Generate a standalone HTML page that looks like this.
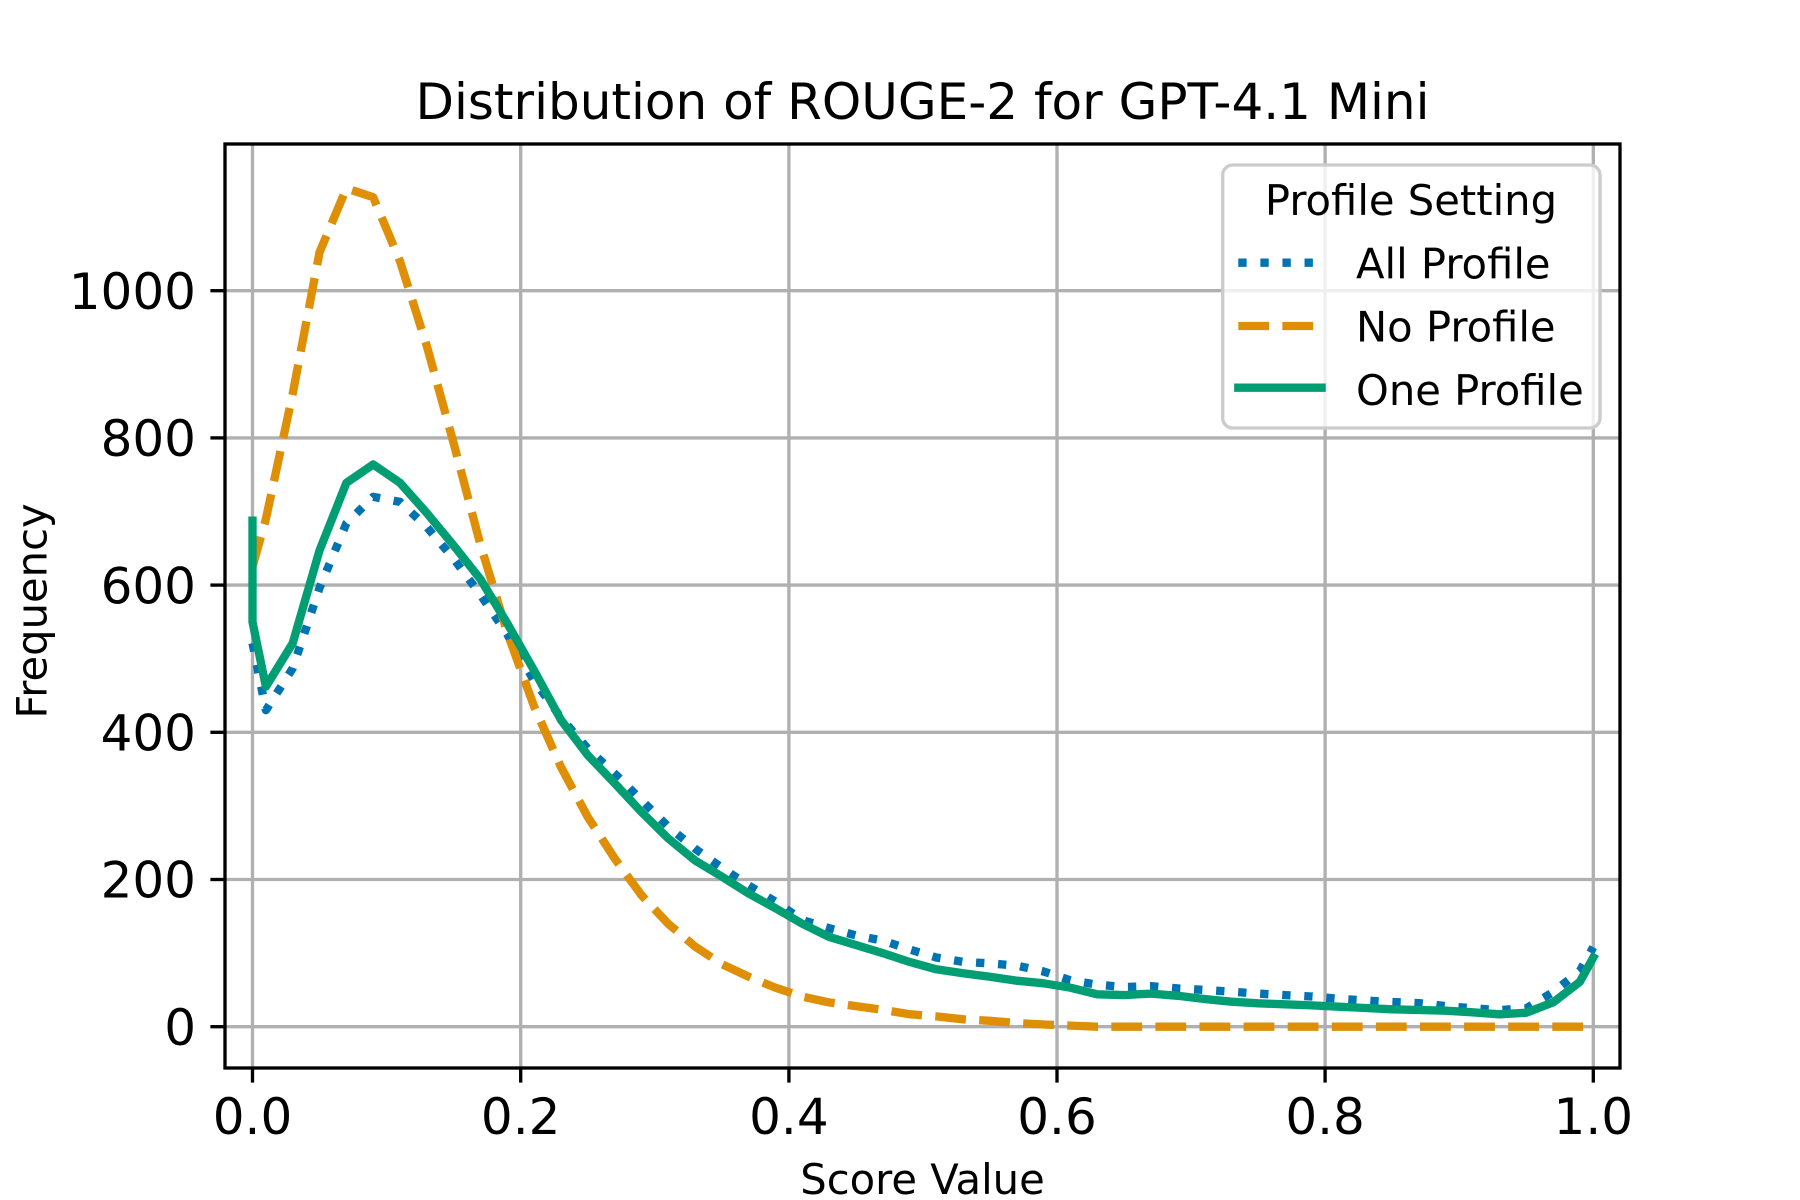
<!DOCTYPE html>
<html>
<head>
<meta charset="utf-8">
<style>
  html, body { margin: 0; padding: 0; background: #ffffff; }
  svg { display: block; }
  text { font-family: "DejaVu Sans", "Liberation Sans", sans-serif; fill: #000; }
</style>
</head>
<body>
<svg width="1800" height="1200" viewBox="0 0 1800 1200" xmlns="http://www.w3.org/2000/svg">
  <rect x="0" y="0" width="1800" height="1200" fill="#ffffff"/>
  <defs>
    <clipPath id="ax"><rect x="225" y="144" width="1395" height="924"/></clipPath>
  </defs>

  <!-- grid -->
  <g stroke="#b0b0b0" stroke-width="3.33" fill="none">
    <line x1="252.5" y1="144" x2="252.5" y2="1068"/>
    <line x1="520.7" y1="144" x2="520.7" y2="1068"/>
    <line x1="788.9" y1="144" x2="788.9" y2="1068"/>
    <line x1="1057.0" y1="144" x2="1057.0" y2="1068"/>
    <line x1="1325.1" y1="144" x2="1325.1" y2="1068"/>
    <line x1="1593.3" y1="144" x2="1593.3" y2="1068"/>
    <line x1="225" y1="1026.7" x2="1620" y2="1026.7"/>
    <line x1="225" y1="879.5" x2="1620" y2="879.5"/>
    <line x1="225" y1="732.3" x2="1620" y2="732.3"/>
    <line x1="225" y1="585.1" x2="1620" y2="585.1"/>
    <line x1="225" y1="437.9" x2="1620" y2="437.9"/>
    <line x1="225" y1="290.7" x2="1620" y2="290.7"/>
  </g>

  <g clip-path="url(#ax)" fill="none" stroke-linejoin="round">
    <!-- All Profile (blue dotted) -->
    <polyline stroke="#0173b2" stroke-width="8.33" stroke-dasharray="8.33 13.75" stroke-linecap="butt"
      points="252.5,643.2 265.9,710.2 292.7,668.3 319.5,588.0 346.4,523.3 373.2,496.8 400.0,501.9 426.8,527.0 453.6,558.6 480.4,594.7 507.3,634.4 534.1,680.8 560.9,717.6 587.7,748.5 614.5,773.5 641.3,800.0 668.1,826.5 695.0,848.6 721.8,867.7 748.6,885.4 775.4,901.6 802.2,920.0 829.0,928.1 855.9,935.4 882.7,940.6 909.5,949.4 936.3,957.5 963.1,961.9 989.9,963.4 1016.8,965.6 1043.6,971.5 1070.4,980.3 1097.2,984.7 1124.0,987.0 1150.8,986.2 1177.7,988.4 1204.5,989.9 1231.3,991.7 1258.1,993.6 1284.9,995.1 1311.7,996.5 1338.5,998.7 1365.4,1000.5 1392.2,1002.0 1419.0,1003.1 1445.8,1006.1 1472.6,1008.3 1499.4,1010.1 1526.3,1008.3 1553.1,992.1 1579.9,970.8 1593.3,947.2"/>
    <!-- No Profile (orange dashed) -->
    <polyline stroke="#de8f05" stroke-width="8.33" stroke-dasharray="30.8 13.3" stroke-linecap="butt"
      points="252.5,566.7 265.9,518.9 292.7,393.7 319.5,252.4 346.4,188.4 373.2,197.2 400.0,261.3 426.8,345.9 453.6,443.1 480.4,544.6 507.3,632.9 534.1,706.5 560.9,766.9 587.7,816.9 614.5,858.2 641.3,895.0 668.1,923.7 695.0,946.5 721.8,964.1 748.6,976.7 775.4,987.7 802.2,996.5 829.0,1002.4 855.9,1006.1 882.7,1009.8 909.5,1014.2 936.3,1016.4 963.1,1019.3 989.9,1020.8 1016.8,1023.0 1043.6,1024.5 1070.4,1025.6 1097.2,1026.7 1124.0,1026.7 1150.8,1026.7 1177.7,1026.7 1204.5,1026.7 1231.3,1026.7 1258.1,1026.7 1284.9,1026.7 1311.7,1026.7 1338.5,1026.7 1365.4,1026.7 1392.2,1026.7 1419.0,1026.7 1445.8,1026.7 1472.6,1026.7 1499.4,1026.7 1526.3,1026.7 1553.1,1026.7 1579.9,1026.7 1593.3,1026.7"/>
    <!-- One Profile (green solid) -->
    <polyline stroke="#029e73" stroke-width="8.33" stroke-linecap="square"
      points="252.5,520.7 252.5,621.9 265.9,686.7 292.7,643.2 319.5,550.5 346.4,482.8 373.2,464.4 400.0,482.8 426.8,513.0 453.6,545.4 480.4,579.2 507.3,623.4 534.1,670.5 560.9,719.8 587.7,755.1 614.5,783.1 641.3,811.8 668.1,838.3 695.0,860.4 721.8,876.6 748.6,893.5 775.4,908.2 802.2,923.7 829.0,936.9 855.9,945.0 882.7,953.1 909.5,961.9 936.3,969.3 963.1,973.3 989.9,976.7 1016.8,980.7 1043.6,983.3 1070.4,987.7 1097.2,994.3 1124.0,995.1 1150.8,993.6 1177.7,995.8 1204.5,999.0 1231.3,1001.7 1258.1,1003.3 1284.9,1004.3 1311.7,1005.4 1338.5,1006.7 1365.4,1008.0 1392.2,1009.3 1419.0,1010.0 1445.8,1010.7 1472.6,1012.3 1499.4,1014.3 1526.3,1012.7 1553.1,1002.4 1579.9,981.8 1593.3,957.5"/>
  </g>

  <!-- spines -->
  <rect x="225" y="144" width="1395" height="924" fill="none" stroke="#000" stroke-width="3.33" stroke-linejoin="miter"/>

  <!-- ticks -->
  <g stroke="#000" stroke-width="3.33">
    <line x1="252.5" y1="1068" x2="252.5" y2="1082.6"/>
    <line x1="520.7" y1="1068" x2="520.7" y2="1082.6"/>
    <line x1="788.9" y1="1068" x2="788.9" y2="1082.6"/>
    <line x1="1057.0" y1="1068" x2="1057.0" y2="1082.6"/>
    <line x1="1325.1" y1="1068" x2="1325.1" y2="1082.6"/>
    <line x1="1593.3" y1="1068" x2="1593.3" y2="1082.6"/>
    <line x1="210.4" y1="1026.7" x2="225" y2="1026.7"/>
    <line x1="210.4" y1="879.5" x2="225" y2="879.5"/>
    <line x1="210.4" y1="732.3" x2="225" y2="732.3"/>
    <line x1="210.4" y1="585.1" x2="225" y2="585.1"/>
    <line x1="210.4" y1="437.9" x2="225" y2="437.9"/>
    <line x1="210.4" y1="290.7" x2="225" y2="290.7"/>
  </g>

  <!-- x tick labels -->
  <g font-size="50" text-anchor="middle">
    <text x="252.5" y="1134">0.0</text>
    <text x="520.7" y="1134">0.2</text>
    <text x="788.9" y="1134">0.4</text>
    <text x="1057.0" y="1134">0.6</text>
    <text x="1325.1" y="1134">0.8</text>
    <text x="1593.3" y="1134">1.0</text>
  </g>
  <!-- y tick labels -->
  <g font-size="50" text-anchor="end">
    <text x="196" y="1044.9">0</text>
    <text x="196" y="897.7">200</text>
    <text x="196" y="750.5">400</text>
    <text x="196" y="603.3">600</text>
    <text x="196" y="456.1">800</text>
    <text x="196" y="308.9">1000</text>
  </g>

  <!-- axis labels -->
  <text x="922.5" y="1194" font-size="41.7" text-anchor="middle">Score Value</text>
  <text transform="translate(46.5,611) rotate(-90)" x="0" y="0" font-size="41.7" text-anchor="middle">Frequency</text>

  <!-- title -->
  <text x="922.5" y="119" font-size="50" text-anchor="middle">Distribution of ROUGE-2 for GPT-4.1 Mini</text>

  <!-- legend -->
  <rect x="1222.7" y="165" width="377.3" height="263" rx="10" ry="10" fill="#ffffff" fill-opacity="0.8" stroke="#cccccc" stroke-width="3.33"/>
  <text x="1411" y="215" font-size="41.7" text-anchor="middle">Profile Setting</text>
  <line x1="1238.3" y1="262.7" x2="1321.6" y2="262.7" stroke="#0173b2" stroke-width="8.33" stroke-dasharray="8.33 13.75"/>
  <text x="1356" y="278.3" font-size="41.7">All Profile</text>
  <line x1="1238.3" y1="326" x2="1321.6" y2="326" stroke="#de8f05" stroke-width="8.33" stroke-dasharray="30.8 13.3"/>
  <text x="1356" y="341.7" font-size="41.7">No Profile</text>
  <line x1="1238.3" y1="387.7" x2="1321.6" y2="387.7" stroke="#029e73" stroke-width="8.33" stroke-linecap="square"/>
  <text x="1356" y="405" font-size="41.7">One Profile</text>
</svg>
</body>
</html>
